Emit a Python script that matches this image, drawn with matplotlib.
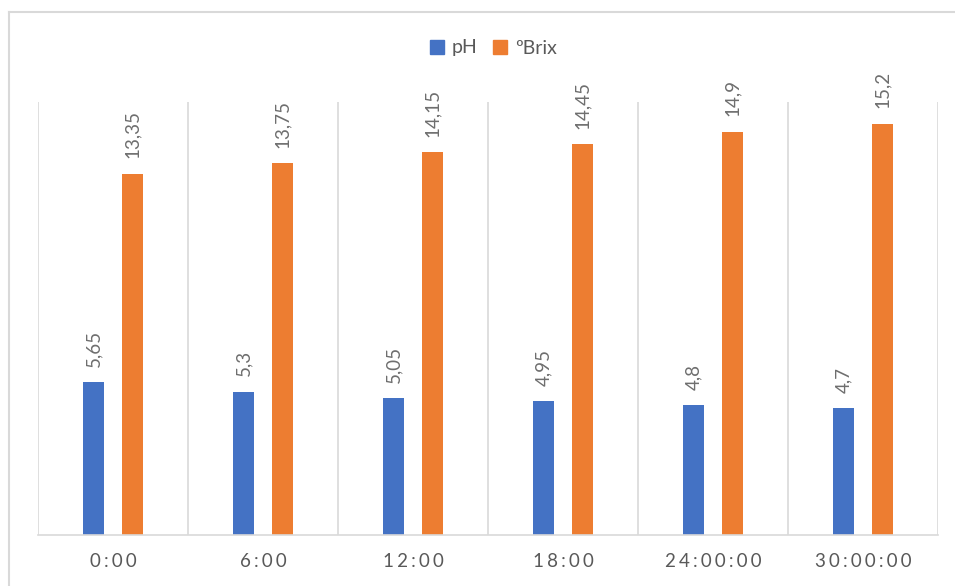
import numpy as np
import matplotlib.pyplot as plt
from matplotlib.lines import Line2D

# Chart data
categories = ["0:00", "6:00", "12:00", "18:00", "24:00:00", "30:00:00"]
ph_values = [5.65, 5.3, 5.05, 4.95, 4.8, 4.7]
brix_values = [13.35, 13.75, 14.15, 14.45, 14.9, 15.2]
series_names = ["pH", "ºBrix"]

BLUE = "#4472C4"
ORANGE = "#ED7D31"
GRID = "#D9D9D9"
TEXT = "#595959"
LABEL = "#6E6E6E"

plt.rcParams['font.family'] = ['Lato', 'DejaVu Sans']

fig = plt.figure(figsize=(9.55, 5.86), dpi=100)
W, H = 955, 586
ax = fig.add_axes([38 / W, 1 - 535 / H, 900 / W, (535 - 102) / H])

x = np.arange(len(categories))
width = 0.14
offset = 0.13

bars_ph = ax.bar(x - offset, ph_values, width, color=BLUE, label=series_names[0])
bars_brix = ax.bar(x + offset, brix_values, width, color=ORANGE, label=series_names[1])

# Data labels, rotated like the original
for bars, vals in [(bars_ph, ph_values), (bars_brix, brix_values)]:
    for b, v in zip(bars, vals):
        ax.annotate(f"{v:g}".replace(".", ","),
                    (b.get_x() + b.get_width() / 2, b.get_height()),
                    xytext=(0, 11), textcoords="offset points",
                    rotation=90, ha="center", va="bottom",
                    fontsize=13.5, color=LABEL)

# spaced-out tick labels, like the letter spacing in the original
spaced = ["\u2006".join(c) for c in categories]

ax.set_xlim(-0.5, len(categories) - 0.5)
ax.set_ylim(0, 16)
ax.set_yticks([])
ax.set_xticks(x)
ax.set_xticklabels(spaced, fontsize=13.5, color=TEXT)
ax.tick_params(axis="x", length=0, pad=13)

# vertical separators between categories
for xv in np.arange(-0.5, len(categories), 1.0):
    ax.axvline(xv, color=GRID, linewidth=1.2, zorder=0)

for side in ["top", "right", "left"]:
    ax.spines[side].set_visible(False)
ax.spines["bottom"].set_color(GRID)
ax.spines["bottom"].set_linewidth(1.2)

# Legend at the top
handles = [Line2D([], [], marker="s", linestyle="", markersize=10, color=BLUE),
           Line2D([], [], marker="s", linestyle="", markersize=10, color=ORANGE)]
fig.legend(handles, series_names, loc="center", bbox_to_anchor=(492 / W, 1 - 48 / H),
           ncol=2, frameon=False, fontsize=14, labelcolor=TEXT,
           handletextpad=0.25, columnspacing=0.7, handlelength=1.0)

# Outer chart frame (only top and left edges are visible in the crop)
fig.add_artist(Line2D([9 / W, 9 / W], [0, 1 - 12 / H], color=GRID, linewidth=1.5,
                      transform=fig.transFigure))
fig.add_artist(Line2D([9 / W, 1], [1 - 12 / H, 1 - 12 / H], color=GRID, linewidth=1.5,
                      transform=fig.transFigure))

plt.savefig("out.png", dpi=100)
